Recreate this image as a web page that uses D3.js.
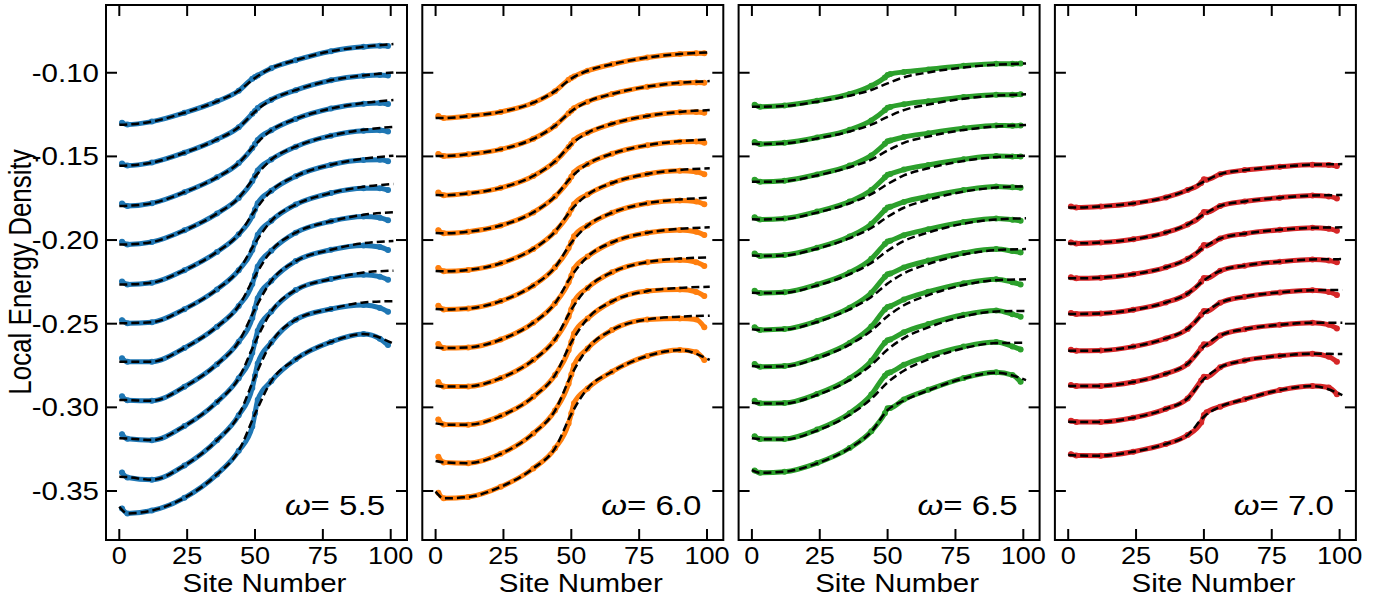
<!DOCTYPE html>
<html>
<head>
<meta charset="utf-8">
<script src="https://cdn.jsdelivr.net/npm/d3@7"></script>
<style>
  body { margin: 0; background: #fff; }
  text { font-family: "Liberation Sans", Arial, Helvetica, sans-serif; fill: #000; }
</style>
</head>
<body>
<svg id="chart" width="1399" height="597"></svg>
<script>
// sites where the measured densities and the fitted curves are sampled
const dataSites = [1, 3, 12, 24, 36, 44, 49, 50, 51, 56, 65, 78, 90, 96, 99];
const fitSites = [0, 3, 12, 24, 36, 44, 50, 56, 65, 78, 90, 101];

const omegas = ["5.5", "6.0", "6.5", "7.0"];
const colors = ["#1f77b4", "#ff7f0e", "#2ca02c", "#d62728"];
const xTicks = [0, 25, 50, 75, 100];
const xTickLabels = ["0", "25", "50", "75", "100"];
const yTicks = [-0.35, -0.30, -0.25, -0.20, -0.15, -0.10];
const yTickLabels = ["-0.35", "-0.30", "-0.25", "-0.20", "-0.15", "-0.10"];

// omega = 5.5
const data55 = [
  [-0.1299, -0.1310, -0.1292, -0.1239, -0.1171, -0.1108, -0.1036, -0.1026, -0.1016, -0.0973, -0.0925, -0.0871, -0.0845, -0.0839, -0.0840],
  [-0.1543, -0.1555, -0.1537, -0.1478, -0.1399, -0.1326, -0.1245, -0.1228, -0.1211, -0.1161, -0.1104, -0.1045, -0.1018, -0.1013, -0.1016],
  [-0.1782, -0.1796, -0.1780, -0.1714, -0.1625, -0.1540, -0.1450, -0.1426, -0.1402, -0.1344, -0.1276, -0.1214, -0.1185, -0.1181, -0.1187],
  [-0.2010, -0.2026, -0.2012, -0.1942, -0.1842, -0.1748, -0.1647, -0.1616, -0.1585, -0.1519, -0.1442, -0.1376, -0.1346, -0.1344, -0.1351],
  [-0.2248, -0.2265, -0.2255, -0.2180, -0.2071, -0.1966, -0.1856, -0.1818, -0.1780, -0.1705, -0.1618, -0.1550, -0.1521, -0.1520, -0.1529],
  [-0.2479, -0.2497, -0.2491, -0.2413, -0.2295, -0.2180, -0.2059, -0.2014, -0.1969, -0.1885, -0.1788, -0.1719, -0.1691, -0.1691, -0.1701],
  [-0.2707, -0.2728, -0.2727, -0.2645, -0.2518, -0.2394, -0.2262, -0.2210, -0.2158, -0.2064, -0.1956, -0.1888, -0.1860, -0.1867, -0.1882],
  [-0.2934, -0.2958, -0.2961, -0.2877, -0.2742, -0.2608, -0.2466, -0.2407, -0.2348, -0.2244, -0.2126, -0.2058, -0.2032, -0.2042, -0.2060],
  [-0.3161, -0.3188, -0.3196, -0.3112, -0.2968, -0.2826, -0.2674, -0.2608, -0.2542, -0.2427, -0.2299, -0.2233, -0.2208, -0.2219, -0.2237],
  [-0.3389, -0.3419, -0.3433, -0.3348, -0.3197, -0.3047, -0.2884, -0.2811, -0.2738, -0.2613, -0.2476, -0.2412, -0.2389, -0.2406, -0.2429],
  [-0.3604, -0.3634, -0.3617, -0.3541, -0.3401, -0.3260, -0.3115, -0.3035, -0.2955, -0.2843, -0.2713, -0.2609, -0.2562, -0.2590, -0.2628]
];
const fit55 = [
  [-0.1311, -0.1309, -0.1292, -0.1239, -0.1171, -0.1108, -0.1031, -0.0973, -0.0925, -0.0871, -0.0845, -0.0828],
  [-0.1556, -0.1554, -0.1537, -0.1478, -0.1399, -0.1326, -0.1233, -0.1161, -0.1104, -0.1045, -0.1016, -0.0998],
  [-0.1797, -0.1795, -0.1780, -0.1714, -0.1625, -0.1540, -0.1431, -0.1344, -0.1276, -0.1214, -0.1181, -0.1163],
  [-0.2027, -0.2026, -0.2012, -0.1942, -0.1842, -0.1748, -0.1621, -0.1519, -0.1442, -0.1376, -0.1341, -0.1323],
  [-0.2266, -0.2265, -0.2255, -0.2180, -0.2071, -0.1966, -0.1823, -0.1705, -0.1618, -0.1550, -0.1514, -0.1496],
  [-0.2498, -0.2497, -0.2491, -0.2413, -0.2295, -0.2180, -0.2019, -0.1885, -0.1788, -0.1719, -0.1682, -0.1665],
  [-0.2728, -0.2728, -0.2727, -0.2645, -0.2518, -0.2394, -0.2215, -0.2064, -0.1956, -0.1888, -0.1849, -0.1834],
  [-0.2956, -0.2957, -0.2961, -0.2877, -0.2742, -0.2608, -0.2412, -0.2244, -0.2126, -0.2058, -0.2019, -0.2006],
  [-0.3185, -0.3186, -0.3196, -0.3112, -0.2968, -0.2826, -0.2613, -0.2427, -0.2299, -0.2233, -0.2194, -0.2183],
  [-0.3415, -0.3417, -0.3433, -0.3348, -0.3197, -0.3047, -0.2816, -0.2613, -0.2476, -0.2412, -0.2373, -0.2365],
  [-0.3594, -0.3634, -0.3617, -0.3541, -0.3401, -0.3260, -0.3040, -0.2843, -0.2713, -0.2609, -0.2562, -0.2620]
];

// omega = 6.0
const data60 = [
  [-0.1259, -0.1271, -0.1259, -0.1234, -0.1179, -0.1110, -0.1042, -0.1032, -0.1022, -0.0988, -0.0949, -0.0909, -0.0888, -0.0884, -0.0884],
  [-0.1485, -0.1498, -0.1487, -0.1458, -0.1395, -0.1317, -0.1242, -0.1227, -0.1212, -0.1173, -0.1127, -0.1083, -0.1061, -0.1058, -0.1060],
  [-0.1716, -0.1732, -0.1721, -0.1688, -0.1617, -0.1530, -0.1444, -0.1424, -0.1404, -0.1359, -0.1305, -0.1258, -0.1236, -0.1234, -0.1239],
  [-0.1941, -0.1960, -0.1950, -0.1913, -0.1835, -0.1740, -0.1646, -0.1621, -0.1596, -0.1545, -0.1484, -0.1433, -0.1413, -0.1411, -0.1418],
  [-0.2167, -0.2187, -0.2179, -0.2139, -0.2053, -0.1950, -0.1846, -0.1816, -0.1786, -0.1728, -0.1659, -0.1605, -0.1586, -0.1592, -0.1607],
  [-0.2393, -0.2415, -0.2409, -0.2365, -0.2272, -0.2163, -0.2048, -0.2013, -0.1978, -0.1913, -0.1837, -0.1780, -0.1763, -0.1770, -0.1786],
  [-0.2621, -0.2646, -0.2642, -0.2595, -0.2495, -0.2378, -0.2253, -0.2213, -0.2173, -0.2099, -0.2014, -0.1956, -0.1940, -0.1950, -0.1970],
  [-0.2849, -0.2876, -0.2875, -0.2825, -0.2717, -0.2594, -0.2458, -0.2413, -0.2368, -0.2286, -0.2193, -0.2132, -0.2119, -0.2132, -0.2155],
  [-0.3072, -0.3103, -0.3104, -0.3051, -0.2937, -0.2807, -0.2659, -0.2609, -0.2559, -0.2469, -0.2367, -0.2305, -0.2296, -0.2310, -0.2335],
  [-0.3295, -0.3329, -0.3334, -0.3278, -0.3156, -0.3019, -0.2859, -0.2804, -0.2749, -0.2648, -0.2538, -0.2475, -0.2469, -0.2475, -0.2521],
  [-0.3510, -0.3544, -0.3536, -0.3475, -0.3365, -0.3245, -0.3096, -0.3036, -0.2976, -0.2887, -0.2787, -0.2693, -0.2658, -0.2670, -0.2717]
];
const fit60 = [
  [-0.1271, -0.1271, -0.1259, -0.1234, -0.1179, -0.1110, -0.1035, -0.0988, -0.0949, -0.0909, -0.0888, -0.0878],
  [-0.1498, -0.1498, -0.1487, -0.1458, -0.1395, -0.1317, -0.1230, -0.1173, -0.1127, -0.1083, -0.1060, -0.1050],
  [-0.1731, -0.1732, -0.1721, -0.1688, -0.1617, -0.1530, -0.1427, -0.1359, -0.1305, -0.1258, -0.1234, -0.1223],
  [-0.1958, -0.1960, -0.1950, -0.1913, -0.1835, -0.1740, -0.1624, -0.1545, -0.1484, -0.1433, -0.1409, -0.1398],
  [-0.2185, -0.2187, -0.2179, -0.2139, -0.2053, -0.1950, -0.1819, -0.1728, -0.1659, -0.1605, -0.1581, -0.1571],
  [-0.2412, -0.2415, -0.2409, -0.2365, -0.2272, -0.2163, -0.2016, -0.1913, -0.1837, -0.1780, -0.1757, -0.1747],
  [-0.2642, -0.2646, -0.2642, -0.2595, -0.2495, -0.2378, -0.2216, -0.2099, -0.2014, -0.1956, -0.1933, -0.1924],
  [-0.2871, -0.2876, -0.2875, -0.2825, -0.2717, -0.2594, -0.2416, -0.2286, -0.2193, -0.2132, -0.2111, -0.2103],
  [-0.3096, -0.3103, -0.3104, -0.3051, -0.2937, -0.2807, -0.2612, -0.2469, -0.2367, -0.2305, -0.2286, -0.2279],
  [-0.3321, -0.3329, -0.3334, -0.3278, -0.3156, -0.3019, -0.2807, -0.2648, -0.2538, -0.2475, -0.2458, -0.2452],
  [-0.3504, -0.3544, -0.3536, -0.3475, -0.3365, -0.3245, -0.3040, -0.2887, -0.2787, -0.2693, -0.2658, -0.2717]
];

// omega = 6.5
const data65 = [
  [-0.1191, -0.1203, -0.1196, -0.1167, -0.1127, -0.1078, -0.1028, -0.1013, -0.1008, -0.0995, -0.0980, -0.0958, -0.0946, -0.0946, -0.0944],
  [-0.1414, -0.1426, -0.1419, -0.1387, -0.1341, -0.1285, -0.1224, -0.1209, -0.1204, -0.1188, -0.1170, -0.1145, -0.1131, -0.1131, -0.1129],
  [-0.1639, -0.1652, -0.1645, -0.1608, -0.1555, -0.1494, -0.1425, -0.1410, -0.1405, -0.1384, -0.1361, -0.1332, -0.1315, -0.1317, -0.1316],
  [-0.1864, -0.1877, -0.1871, -0.1830, -0.1770, -0.1701, -0.1625, -0.1610, -0.1605, -0.1579, -0.1551, -0.1517, -0.1498, -0.1500, -0.1501],
  [-0.2081, -0.2095, -0.2089, -0.2046, -0.1979, -0.1903, -0.1821, -0.1806, -0.1801, -0.1772, -0.1739, -0.1701, -0.1680, -0.1685, -0.1687],
  [-0.2303, -0.2317, -0.2312, -0.2266, -0.2194, -0.2112, -0.2024, -0.2009, -0.2004, -0.1971, -0.1935, -0.1892, -0.1871, -0.1879, -0.1884],
  [-0.2522, -0.2537, -0.2532, -0.2484, -0.2404, -0.2315, -0.2220, -0.2205, -0.2200, -0.2164, -0.2123, -0.2077, -0.2054, -0.2066, -0.2074],
  [-0.2741, -0.2757, -0.2753, -0.2701, -0.2615, -0.2517, -0.2415, -0.2400, -0.2395, -0.2355, -0.2309, -0.2259, -0.2234, -0.2252, -0.2265],
  [-0.2960, -0.2976, -0.2974, -0.2920, -0.2827, -0.2722, -0.2614, -0.2599, -0.2594, -0.2551, -0.2502, -0.2447, -0.2421, -0.2443, -0.2458],
  [-0.3173, -0.3190, -0.3189, -0.3133, -0.3035, -0.2924, -0.2811, -0.2796, -0.2791, -0.2746, -0.2693, -0.2637, -0.2610, -0.2636, -0.2654],
  [-0.3378, -0.3391, -0.3385, -0.3333, -0.3243, -0.3143, -0.3036, -0.3006, -0.3004, -0.2953, -0.2895, -0.2825, -0.2791, -0.2807, -0.2847]
];
const fit65 = [
  [-0.1203, -0.1203, -0.1199, -0.1173, -0.1137, -0.1103, -0.1063, -0.1027, -0.0998, -0.0968, -0.0952, -0.0944],
  [-0.1426, -0.1426, -0.1422, -0.1393, -0.1351, -0.1310, -0.1264, -0.1223, -0.1190, -0.1155, -0.1137, -0.1129],
  [-0.1651, -0.1652, -0.1648, -0.1614, -0.1565, -0.1519, -0.1465, -0.1419, -0.1381, -0.1342, -0.1321, -0.1313],
  [-0.1876, -0.1877, -0.1874, -0.1836, -0.1780, -0.1726, -0.1665, -0.1614, -0.1571, -0.1527, -0.1504, -0.1496],
  [-0.2093, -0.2095, -0.2092, -0.2052, -0.1989, -0.1928, -0.1861, -0.1807, -0.1759, -0.1711, -0.1686, -0.1679],
  [-0.2315, -0.2317, -0.2315, -0.2272, -0.2204, -0.2137, -0.2064, -0.2006, -0.1955, -0.1902, -0.1877, -0.1870],
  [-0.2534, -0.2537, -0.2535, -0.2490, -0.2414, -0.2340, -0.2260, -0.2199, -0.2143, -0.2087, -0.2060, -0.2054],
  [-0.2753, -0.2757, -0.2756, -0.2707, -0.2625, -0.2542, -0.2455, -0.2390, -0.2329, -0.2269, -0.2240, -0.2235],
  [-0.2972, -0.2976, -0.2977, -0.2926, -0.2837, -0.2747, -0.2654, -0.2586, -0.2522, -0.2457, -0.2427, -0.2424],
  [-0.3185, -0.3190, -0.3192, -0.3139, -0.3045, -0.2949, -0.2851, -0.2781, -0.2713, -0.2647, -0.2616, -0.2614],
  [-0.3375, -0.3391, -0.3385, -0.3335, -0.3245, -0.3146, -0.3016, -0.2960, -0.2899, -0.2827, -0.2793, -0.2837]
];

// omega = 7.0
const data70 = [
  [-0.1800, -0.1805, -0.1799, -0.1781, -0.1745, -0.1701, -0.1659, -0.1637, -0.1639, -0.1606, -0.1582, -0.1562, -0.1550, -0.1552, -0.1558],
  [-0.2014, -0.2020, -0.2015, -0.1995, -0.1955, -0.1907, -0.1854, -0.1832, -0.1834, -0.1796, -0.1769, -0.1747, -0.1734, -0.1739, -0.1751],
  [-0.2223, -0.2229, -0.2225, -0.2204, -0.2163, -0.2112, -0.2052, -0.2030, -0.2032, -0.1991, -0.1962, -0.1939, -0.1927, -0.1932, -0.1944],
  [-0.2436, -0.2442, -0.2439, -0.2417, -0.2373, -0.2320, -0.2249, -0.2227, -0.2229, -0.2184, -0.2153, -0.2129, -0.2116, -0.2122, -0.2133],
  [-0.2656, -0.2662, -0.2660, -0.2637, -0.2588, -0.2531, -0.2446, -0.2424, -0.2426, -0.2375, -0.2339, -0.2313, -0.2300, -0.2310, -0.2329],
  [-0.2867, -0.2873, -0.2872, -0.2849, -0.2799, -0.2740, -0.2645, -0.2623, -0.2625, -0.2571, -0.2533, -0.2507, -0.2494, -0.2506, -0.2528],
  [-0.3080, -0.3087, -0.3087, -0.3062, -0.3009, -0.2947, -0.2839, -0.2817, -0.2819, -0.2761, -0.2720, -0.2692, -0.2680, -0.2697, -0.2727],
  [-0.3280, -0.3288, -0.3289, -0.3265, -0.3219, -0.3166, -0.3090, -0.3046, -0.3030, -0.2996, -0.2952, -0.2897, -0.2873, -0.2881, -0.2922]
];
const fit70 = [
  [-0.1805, -0.1805, -0.1799, -0.1781, -0.1745, -0.1701, -0.1651, -0.1606, -0.1582, -0.1562, -0.1550, -0.1546],
  [-0.2020, -0.2020, -0.2015, -0.1995, -0.1955, -0.1907, -0.1846, -0.1796, -0.1769, -0.1747, -0.1734, -0.1731],
  [-0.2229, -0.2229, -0.2225, -0.2204, -0.2163, -0.2112, -0.2044, -0.1991, -0.1962, -0.1939, -0.1927, -0.1924],
  [-0.2442, -0.2442, -0.2439, -0.2417, -0.2373, -0.2320, -0.2241, -0.2184, -0.2153, -0.2129, -0.2116, -0.2114],
  [-0.2662, -0.2662, -0.2660, -0.2637, -0.2588, -0.2531, -0.2438, -0.2375, -0.2339, -0.2313, -0.2300, -0.2299],
  [-0.2873, -0.2873, -0.2872, -0.2849, -0.2799, -0.2740, -0.2637, -0.2571, -0.2533, -0.2507, -0.2494, -0.2494],
  [-0.3086, -0.3087, -0.3087, -0.3062, -0.3009, -0.2947, -0.2831, -0.2761, -0.2720, -0.2692, -0.2680, -0.2681],
  [-0.3285, -0.3288, -0.3289, -0.3265, -0.3219, -0.3166, -0.3056, -0.2996, -0.2952, -0.2897, -0.2873, -0.2927]
];

const panels = [
  { omega: omegas[0], color: colors[0], data: data55, fit: fit55 },
  { omega: omegas[1], color: colors[1], data: data60, fit: fit60 },
  { omega: omegas[2], color: colors[2], data: data65, fit: fit65 },
  { omega: omegas[3], color: colors[3], data: data70, fit: fit70 }
];

let svg = d3.select("#chart");

let panelW = 301, panelH = 535, panelTop = 5, firstLeft = 106, pitch = 316.3;
let tickLen = 11;
let stretch = 1.18;   // glyphs in this figure are drawn wide

let x = d3.scaleLinear().domain([-4.9, 106]).range([0, panelW]);
let y = d3.scaleLinear().domain([-0.3793, -0.0595]).range([panelH, 0]);

let dataLine = d3.line()
    .x(d => x(d[0]))
    .y(d => y(d[1]))
    .curve(d3.curveMonotoneX);

function wideText(g, px, py, str, size, anchor){
    return g.append("text")
        .attr("transform", `translate(${px},${py}) scale(${stretch},1)`)
        .attr("text-anchor", anchor)
        .style("font-size", size + "px")
        .text(str);
}

panels.forEach((p, i) => {
    let g = svg.append("g")
        .attr("transform", `translate(${firstLeft + i*pitch},${panelTop})`);

    // curves: measured densities as a dense marker band, fit as dashed black
    p.data.forEach((row, k) => {
        let pts = dataSites.map((s, j) => [s, row[j]]);
        let fpts = fitSites.map((s, j) => [s, p.fit[k][j]]);

        g.append("path")
            .attr("d", dataLine(pts))
            .attr("fill", "none")
            .attr("stroke", p.color)
            .attr("stroke-width", 5)
            .attr("stroke-linecap", "round")
            .attr("stroke-linejoin", "round");

        g.selectAll(null)
            .data(pts)
            .enter()
            .append("circle")
                .attr("cx", d => x(d[0]))
                .attr("cy", d => y(d[1]))
                .attr("r", 3)
                .attr("fill", p.color);

        g.append("path")
            .attr("d", dataLine(fpts))
            .attr("fill", "none")
            .attr("stroke", "#000")
            .attr("stroke-width", 2.5)
            .attr("stroke-dasharray", "8,4");
    });

    // inward ticks on all four sides
    let ticks = g.append("g").attr("stroke", "#000").attr("stroke-width", 2);
    xTicks.forEach(t => {
        ticks.append("line").attr("x1", x(t)).attr("x2", x(t)).attr("y1", panelH).attr("y2", panelH - tickLen);
        ticks.append("line").attr("x1", x(t)).attr("x2", x(t)).attr("y1", 0).attr("y2", tickLen);
    });
    yTicks.forEach(t => {
        ticks.append("line").attr("x1", 0).attr("x2", tickLen).attr("y1", y(t)).attr("y2", y(t));
        ticks.append("line").attr("x1", panelW).attr("x2", panelW - tickLen).attr("y1", y(t)).attr("y2", y(t));
    });

    g.append("rect")
        .attr("width", panelW)
        .attr("height", panelH)
        .attr("fill", "none")
        .attr("stroke", "#000")
        .attr("stroke-width", 2);

    xTicks.forEach((t, j) => wideText(g, x(t), panelH + 23.5, xTickLabels[j], 23, "middle"));

    if (i === 0) {
        yTicks.forEach((t, j) => wideText(g, -7, y(t) + 9, yTickLabels[j], 25, "end"));
    }

    wideText(g, panelW / 2 + 8, panelH + 51.5, "Site Number", 25, "middle");

    let lab = g.append("text")
        .attr("transform", `translate(${panelW - 22},${panelH - 25}) scale(${stretch},1)`)
        .attr("text-anchor", "end")
        .style("font-size", "28px");
    lab.append("tspan").style("font-style", "italic").text("ω");
    lab.append("tspan").text("= " + p.omega);
});

svg.append("text")
    .attr("transform", `translate(31,272) scale(${stretch},1) rotate(-90)`)
    .attr("text-anchor", "middle")
    .style("font-size", "26px")
    .text("Local Energy Density");
</script>
</body>
</html>
